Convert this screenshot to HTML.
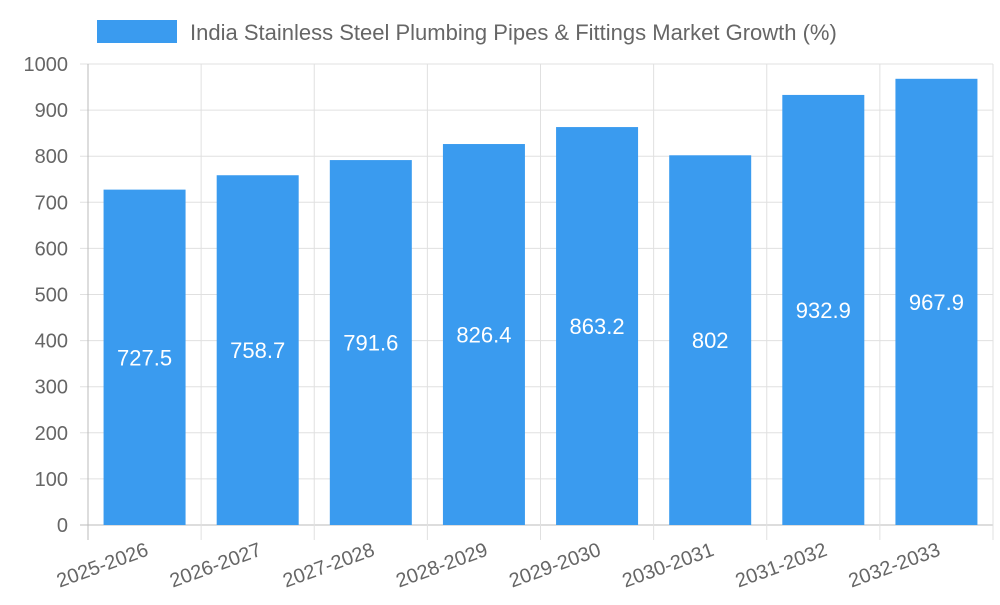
<!DOCTYPE html>
<html><head><meta charset="utf-8"><style>
body{margin:0;background:#fff;}
text{font-family:"Liberation Sans",sans-serif;}
</style></head><body>
<svg id="chart" width="1000" height="600" xmlns="http://www.w3.org/2000/svg">
<rect x="97" y="20" width="80" height="23" fill="#3a9bef"/>
<text x="190" y="40" font-size="22" fill="#666">India Stainless Steel Plumbing Pipes &amp; Fittings Market Growth (%)</text>
<g id="grid"></g><g id="bars"></g><g id="labels"></g>
</svg>
<script>
const categories=["2025-2026","2026-2027","2027-2028","2028-2029","2029-2030","2030-2031","2031-2032","2032-2033"];
const values=[727.5,758.7,791.6,826.4,863.2,802,932.9,967.9];
const yTicks=[0,100,200,300,400,500,600,700,800,900,1000];
const NS="http://www.w3.org/2000/svg";
const L=88,R=993,T=64,B=525,yMax=1000;
const bw=(R-L)/categories.length;
const y=v=>B-(v/yMax)*(B-T);
const x=i=>L+i*bw;
function mk(tag,attrs,parent){const e=document.createElementNS(NS,tag);for(const k in attrs)e.setAttribute(k,attrs[k]);parent.appendChild(e);return e;}
const grid=document.getElementById('grid'),bars=document.getElementById('bars'),labels=document.getElementById('labels');
yTicks.forEach(t=>{
  const l=mk('line',{x1:80,x2:R,y1:y(t),y2:y(t),stroke:t===0?'#bbb':'#e0e0e0','stroke-width':1},grid);
  
  
  const tx=mk('text',{x:68,y:y(t)+7,'text-anchor':'end','font-size':20,fill:'#666'},grid);
  tx.textContent=t;
  
  
});
for(let i=0;i<=categories.length;i++){
  const l=mk('line',{x1:x(i),x2:x(i),y1:T,y2:540,stroke:i===0?'#bbb':'#e0e0e0','stroke-width':1},grid);
  
  
}
categories.forEach((c,i)=>{
  const cx=x(i)+bw/2;
  const r=mk('rect',{x:cx-41,y:y(values[i]),width:82,height:B-y(values[i]),fill:'#3a9bef'},bars);
  
  
  const v=mk('text',{x:cx,y:(y(values[i])+B)/2+8,'text-anchor':'middle','font-size':22,fill:'#fff'},labels);
  v.textContent=values[i];
  
  
  const t=mk('text',{x:0,y:0,'text-anchor':'end','font-size':20,fill:'#666',transform:`translate(${x(i)+bw/2+5},${555}) rotate(-20)`},labels);
  t.textContent=c;
  
  
});
</script>
</body></html>
